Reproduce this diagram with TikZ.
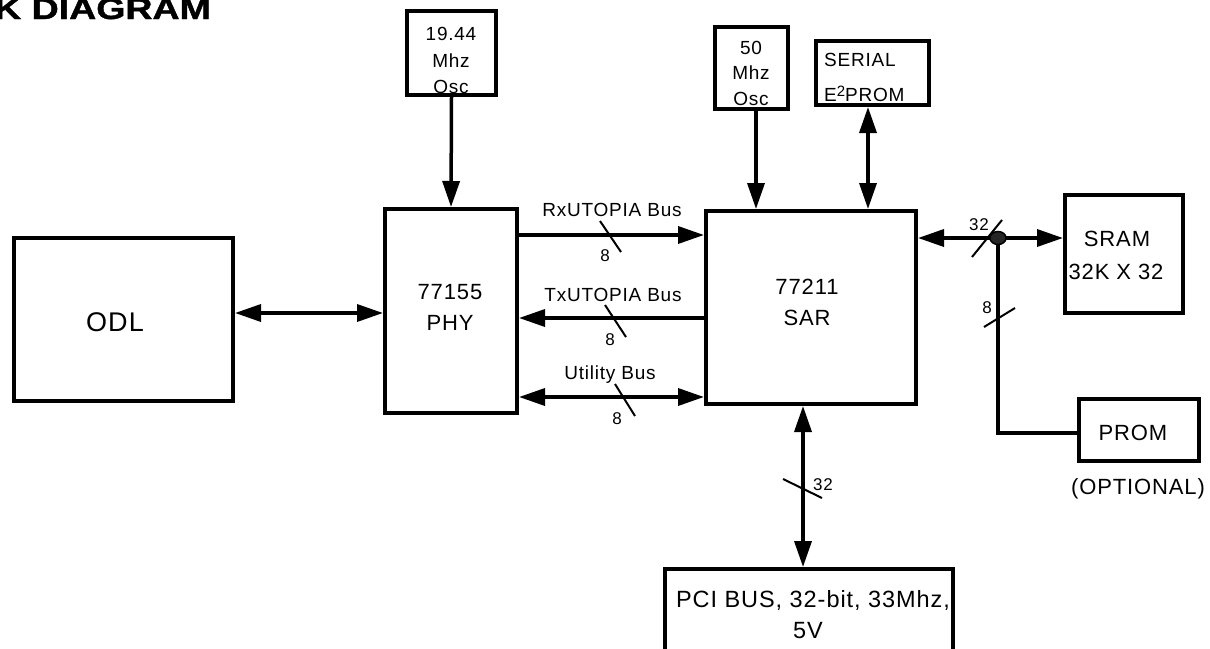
\documentclass[tikz,border=0pt]{standalone}
\usepackage{fontspec}
\setmainfont{Liberation Sans}[LetterSpace=4]
\newfontfamily\titlefont{Liberation Sans}[BoldFont={* Bold},BoldFeatures={FakeBold=1.2}]
\usetikzlibrary{arrows.meta}
\begin{document}
\begin{tikzpicture}[x=1pt,y=-1pt,
  box/.style={draw=black,line width=4pt,fill=white,inner sep=0pt},
  conn/.style={line width=3.5pt},
  tip/.tip={Triangle[length=26pt,width=17pt]},
  fwd/.style={conn,-tip},
  bwd/.style={conn,tip-},
  dbl/.style={conn,tip-tip},
  slash/.style={line width=2pt},
  txt/.style={inner sep=0pt,align=center},
  big/.style={font=\fontsize{27}{30}\selectfont},
  mid/.style={font=\fontsize{22}{31}\selectfont},
  med/.style={font=\fontsize{22}{33}\selectfont},
  sml/.style={font=\fontsize{19}{27}\selectfont},
  bus/.style={font=\fontsize{19}{22}\selectfont},
  num/.style={font=\fontsize{17}{18}\selectfont,inner sep=0pt}
]
\useasboundingbox (0,0) rectangle (1210,648);
\fill[white] (0,0) rectangle (1210,648);

% title
\node[anchor=base west,inner sep=0pt,font=\titlefont\fontsize{30}{30}\selectfont\bfseries] (title) at (-6,19) {\scalebox{1.25}[1]{K DIAGRAM}};

% boxes
\node[box,minimum width=89pt,minimum height=84pt] (osc1) at (451.5,53) {};
\node[box,minimum width=132pt,minimum height=204pt] (phy) at (451,311) {};
\node[box,minimum width=219pt,minimum height=163pt] (odl) at (123.5,319.5) {};
\node[box,minimum width=210pt,minimum height=193pt] (sar) at (811,307.5) {};
\node[box,minimum width=73pt,minimum height=82pt] (osc2) at (751.5,68) {};
\node[box,minimum width=113pt,minimum height=64pt] (eep) at (872,73) {};
\node[box,minimum width=118pt,minimum height=118pt] (sram) at (1124,254) {};
\node[box,minimum width=120pt,minimum height=62pt] (prom) at (1139,430) {};
\node[box,minimum width=288pt,minimum height=100pt] (pci) at (809,619) {};

% box texts
\node[txt,sml] (t1a) at (451,34) {19.44};
\node[txt,sml] (t1b) at (451,61) {Mhz};
\node[txt,sml] (t1c) at (451,87) {Osc};
\node[txt,big] (todl) at (115,322) {ODL};
\node[txt,mid] (tphya) at (450,292) {77155};
\node[txt,mid] (tphyb) at (450,323) {PHY};
\node[txt,mid] (tsara) at (807,287) {77211};
\node[txt,mid] (tsarb) at (807,318) {SAR};
\node[txt,sml] (t2a) at (751,48) {50};
\node[txt,sml] (t2b) at (751,73) {Mhz};
\node[txt,sml] (t2c) at (751,99) {Osc};
\node[txt,sml,anchor=west] (teea) at (824,60) {SERIAL};
\node[txt,sml,anchor=west] (teeb) at (824,94) {E\raisebox{0.55ex}{\fontsize{15}{15}\selectfont 2}PROM};
\node[txt,med] (tsra) at (1117,239) {SRAM};
\node[txt,med] (tsrb) at (1116,272) {32K X 32};
\node[txt,med] (tprom) at (1133,433) {PROM};
\node[txt,med] (topt) at (1138,489) {(OPTIONAL)};
\node[txt,font=\fontsize{23.5}{33}\selectfont] (tpcia) at (813,600) {PCI BUS, 32-bit, 33Mhz,};
\node[txt,font=\fontsize{23.5}{33}\selectfont] (tpcib) at (808,631) {5V};

% level coordinates
\coordinate (yodl) at (0,313);
\coordinate (yrx) at (0,235);
\coordinate (ytx) at (0,318);
\coordinate (yut) at (0,397);
\coordinate (xosc2) at (756,0);
\coordinate (xeep) at (868,0);
\coordinate (ysram) at (0,238);
\coordinate (xpci) at (803,0);
\coordinate (yprom) at (0,433);
\coordinate (jx) at (998,238);
\coordinate (corner) at (998,433);

% connectors
\draw[fwd] (osc1.south) -- (phy.north);
\draw[dbl] (odl.east |- yodl) -- (phy.west |- yodl);
\draw[fwd] (phy.east |- yrx) -- (sar.west |- yrx);
\draw[bwd] (phy.east |- ytx) -- (sar.west |- ytx);
\draw[dbl] (phy.east |- yut) -- (sar.west |- yut);
\draw[fwd] (osc2.south -| xosc2) -- (sar.north -| xosc2);
\draw[dbl] (eep.south -| xeep) -- (sar.north -| xeep);
\draw[bwd] (sar.east |- ysram) -- (jx);
\draw[fwd] (jx) -- (sram.west |- ysram);
\draw[conn] (jx) -- (corner) -- (prom.west |- yprom);
\draw[dbl] (sar.south -| xpci) -- (pci.north -| xpci);
\draw[line width=1.5pt,fill=black!85] (jx) ellipse (8pt and 6.5pt);

% bus labels
\node[txt,bus] (lrx) at (612,210) {RxUTOPIA Bus};
\node[txt,bus] (ltx) at (613,295) {TxUTOPIA Bus};
\node[txt,bus] (lut) at (610,375) {Utility Bus};

% width slashes
\draw[slash] (600,221) -- (621,252);
\node[num] (n1) at (605,256) {8};
\draw[slash] (605,305) -- (626,337);
\node[num] (n2) at (610,340) {8};
\draw[slash] (615,384) -- (635,416);
\node[num] (n3) at (617,419) {8};
\draw[slash] (972,257) -- (1002,220);
\node[num] (n4) at (979,225) {32};
\draw[slash] (984,327) -- (1015,308);
\node[num] (n5) at (987,308) {8};
\draw[slash] (783,479) -- (822,498);
\node[num] (n6) at (823,485) {32};
\end{tikzpicture}
\end{document}
